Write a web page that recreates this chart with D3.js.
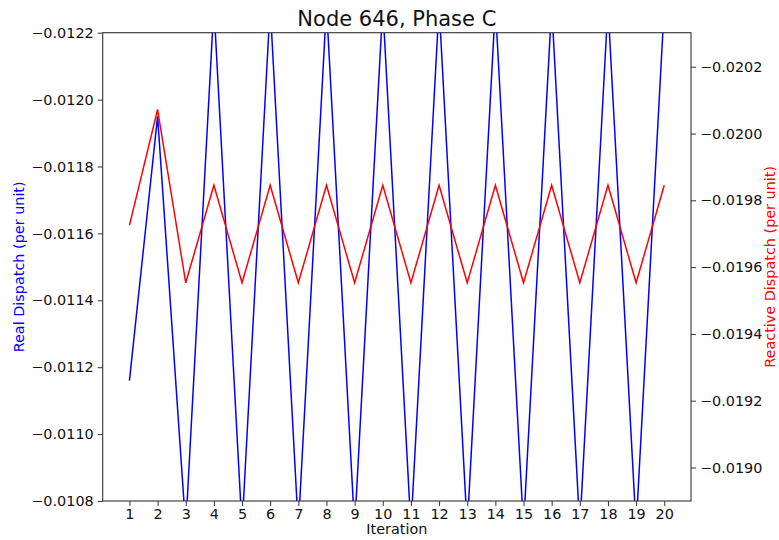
<!DOCTYPE html>
<html>
<head>
<meta charset="utf-8">
<script src="https://cdn.jsdelivr.net/npm/d3@7"></script>
<style>
  body { margin: 0; background: #fff; }
  svg text { font-family: "DejaVu Sans", sans-serif; }
</style>
</head>
<body>
<div id="app"></div>
<script>
// values
const iterations = [1,2,3,4,5,6,7,8,9,10,11,12,13,14,15,16,17,18,19,20];
const realDispatch = [
  -0.01116, -0.01195, -0.01072, -0.01228, -0.01072, -0.01228, -0.01072, -0.01228, -0.01072, -0.01228,
  -0.01072, -0.01228, -0.01072, -0.01228, -0.01072, -0.01228, -0.01072, -0.01228, -0.01072, -0.01228
];
const reactiveDispatch = [
  -0.019725, -0.020072, -0.019553, -0.019845, -0.019553, -0.019845, -0.019553, -0.019845, -0.019553, -0.019845,
  -0.019553, -0.019845, -0.019553, -0.019845, -0.019553, -0.019845, -0.019553, -0.019845, -0.019553, -0.019845
];
const realTicks = [-0.0122, -0.0120, -0.0118, -0.0116, -0.0114, -0.0112, -0.0110, -0.0108];
const reactiveTicks = [-0.0202, -0.0200, -0.0198, -0.0196, -0.0194, -0.0192, -0.0190];
const titleText = "Node 646, Phase C";

// m = margin
const W = 779, H = 540;
const m = { t: 32.7, r: 88, b: 39, l: 102.7 };
const plotW = W - m.l - m.r;
const plotH = H - m.t - m.b;

const x = d3.scaleLinear().domain([0.05, 20.95]).range([0, plotW]);
const yReal = d3.scaleLinear().domain([-0.0122, -0.0108]).range([0, plotH]);
const yReact = d3.scaleLinear().domain([-0.020302, -0.0188997]).range([0, plotH]);

const svg = d3.select("#app").append("svg")
    .attr("width", W)
    .attr("height", H);

svg.append("defs").append("clipPath").attr("id", "clip")
    .append("rect").attr("width", plotW).attr("height", plotH);

const g = svg.append("g").attr("transform", "translate(" + m.l + "," + m.t + ")");

const fmt = d3.format(".4f");

// x axis
const xAx = g.append("g")
    .attr("transform", "translate(0," + plotH + ")")
    .call(d3.axisBottom(x).tickValues(iterations).tickSize(5).tickPadding(3).tickFormat(d3.format("d")));

// left axis
const yAx = g.append("g")
    .call(d3.axisLeft(yReal).tickValues(realTicks).tickSize(5).tickPadding(4).tickFormat(fmt));

// right axis
const y2Ax = g.append("g")
    .attr("transform", "translate(" + plotW + ",0)")
    .call(d3.axisRight(yReact).tickValues(reactiveTicks).tickSize(5).tickPadding(4).tickFormat(fmt));

[xAx, yAx, y2Ax].forEach(a => {
    a.select(".domain").remove();
    a.selectAll("line").attr("stroke", "#333");
    a.selectAll("text").attr("font-size", "14.4px").attr("fill", "#111");
});

// lines
const lines = g.append("g").attr("clip-path", "url(#clip)");

lines.append("path")
    .datum(iterations)
    .attr("fill", "none")
    .attr("stroke", "#0000ff")
    .attr("stroke-width", 1.5)
    .attr("d", d3.line().x(d => x(d)).y((d, i) => yReal(realDispatch[i])));

lines.append("path")
    .datum(iterations)
    .attr("fill", "none")
    .attr("stroke", "#ff0000")
    .attr("stroke-width", 1.5)
    .attr("d", d3.line().x(d => x(d)).y((d, i) => yReact(reactiveDispatch[i])));

// frame
g.append("rect")
    .attr("width", plotW)
    .attr("height", plotH)
    .attr("fill", "none")
    .attr("stroke", "#333")
    .attr("stroke-width", 1.1);

// title and labels
svg.append("text")
    .attr("x", m.l + plotW / 2)
    .attr("y", 26)
    .attr("text-anchor", "middle")
    .attr("font-size", "21px")
    .attr("fill", "#111")
    .text(titleText);

svg.append("text")
    .attr("x", m.l + plotW / 2)
    .attr("y", 534)
    .attr("text-anchor", "middle")
    .attr("font-size", "14.4px")
    .attr("fill", "#111")
    .text("Iteration");

svg.append("text")
    .attr("transform", "translate(24," + (m.t + plotH / 2) + ") rotate(-90)")
    .attr("text-anchor", "middle")
    .attr("font-size", "14.4px")
    .attr("fill", "#0000ff")
    .text("Real Dispatch (per unit)");

svg.append("text")
    .attr("transform", "translate(775," + (m.t + plotH / 2) + ") rotate(-90)")
    .attr("text-anchor", "middle")
    .attr("font-size", "14.4px")
    .attr("fill", "#ff0000")
    .text("Reactive Dispatch (per unit)");
</script>
</body>
</html>
